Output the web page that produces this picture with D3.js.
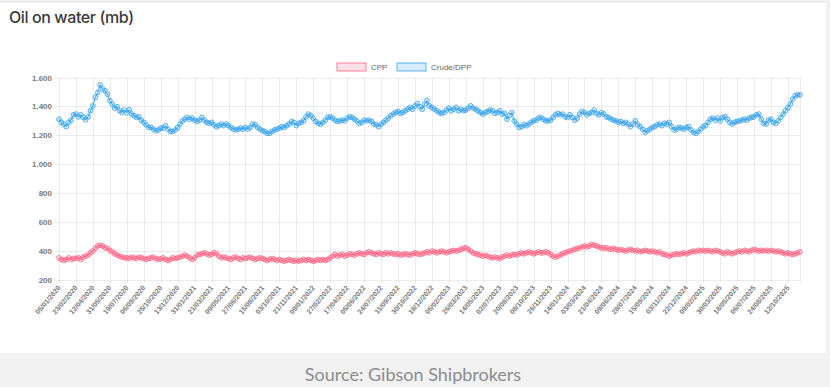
<!doctype html>
<html lang="en">
<head>
  <meta charset="utf-8">
  <title>Oil on water (mb)</title>
  <script src="https://cdn.jsdelivr.net/npm/d3@7"></script>
  <style type="text/css">
    body {
      margin: 0;
      background-color: #ffffff;
    }
    .title {
      font-family: "Inter", sans-serif;
      font-weight: 500;
      font-size: 16px;
      letter-spacing: -0.4px;
      fill: #3a3a3a;
    }
    .source {
      font-family: "Lato", sans-serif;
      font-size: 18px;
      fill: #8c8c8c;
    }
    .tick-label {
      font-family: "Liberation Sans", Arial, sans-serif;
      font-weight: bold;
      fill: #7a7a7a;
    }
    .legend-label {
      font-family: "Liberation Sans", Arial, sans-serif;
      fill: #666666;
    }
    .grid {
      stroke: rgba(0, 0, 0, 0.075);
      stroke-width: 1;
    }
  </style>
</head>
<body>
  <div id="container"></div>

<script type="text/javascript">

  // Weekly series, first week 05/01/2020 (one value per week)
  var cpp = [
    353, 342, 335, 342, 353, 342, 349,
    349, 353, 342, 358, 365, 372, 388,
    400, 419, 435, 440, 435, 423, 419,
    405, 395, 381, 372, 365, 358, 353,
    353, 349, 358, 353, 349, 358, 353,
    349, 342, 349, 353, 358, 349, 342,
    346, 353, 342, 335, 342, 353, 349,
    353, 358, 365, 372, 365, 353, 342,
    353, 372, 377, 381, 388, 381, 372,
    377, 388, 381, 365, 353, 358, 353,
    349, 342, 353, 358, 349, 342, 353,
    349, 353, 358, 349, 342, 349, 353,
    349, 342, 335, 342, 349, 342, 335,
    342, 335, 330, 335, 342, 335, 330,
    335, 330, 335, 342, 335, 342, 335,
    330, 335, 342, 335, 342, 335, 342,
    353, 365, 377, 365, 372, 377, 365,
    372, 381, 377, 372, 381, 388, 381,
    377, 388, 395, 388, 381, 377, 388,
    381, 377, 388, 381, 388, 381, 377,
    381, 372, 377, 381, 377, 372, 381,
    388, 381, 377, 381, 388, 395, 388,
    400, 395, 388, 395, 400, 395, 388,
    395, 400, 405, 400, 405, 412, 419,
    423, 412, 400, 388, 381, 377, 372,
    365, 370, 365, 358, 353, 358, 353,
    349, 358, 365, 372, 365, 372, 377,
    372, 381, 388, 381, 388, 395, 388,
    381, 388, 395, 388, 388, 395, 388,
    377, 365, 358, 365, 372, 381, 388,
    395, 400, 405, 412, 419, 423, 428,
    435, 428, 435, 446, 440, 435, 428,
    423, 419, 423, 416, 412, 419, 412,
    405, 412, 405, 400, 407, 412, 405,
    400, 405, 395, 400, 405, 400, 395,
    400, 395, 388, 395, 381, 377, 372,
    365, 372, 377, 381, 377, 381, 388,
    381, 388, 395, 400, 395, 405, 400,
    405, 400, 405, 400, 395, 405, 400,
    395, 388, 381, 395, 388, 381, 388,
    395, 400, 395, 405, 400, 395, 405,
    412, 405, 400, 405, 400, 405, 400,
    405, 400, 395, 400, 395, 388, 381,
    388, 381, 377, 381, 388, 395
  ];

  var crude = [
    1312, 1290, 1278, 1260, 1290, 1305, 1342,
    1347, 1328, 1342, 1324, 1308, 1328, 1370,
    1404, 1462, 1496, 1549, 1520, 1508, 1485,
    1440, 1416, 1388, 1398, 1370, 1358, 1375,
    1356, 1377, 1347, 1336, 1324, 1328, 1305,
    1290, 1273, 1255, 1255, 1243, 1232, 1237,
    1250, 1250, 1267, 1243, 1227, 1227, 1237,
    1255, 1278, 1300, 1312, 1324, 1312, 1319,
    1305, 1296, 1305, 1324, 1305, 1290, 1283,
    1290, 1273, 1260, 1267, 1278, 1267, 1278,
    1267, 1255, 1243, 1237, 1243, 1250, 1243,
    1255, 1243, 1255, 1278, 1273, 1255, 1243,
    1232, 1227, 1214, 1214, 1227, 1237, 1243,
    1250, 1260, 1255, 1267, 1278, 1294, 1290,
    1267, 1283, 1290, 1300, 1328, 1347, 1336,
    1319, 1296, 1283, 1278, 1290, 1305, 1324,
    1328, 1319, 1305, 1296, 1300, 1305, 1300,
    1319, 1328, 1324, 1312, 1300, 1283, 1290,
    1305, 1300, 1305, 1296, 1278, 1273, 1260,
    1278, 1290, 1305, 1319, 1336, 1347, 1358,
    1365, 1352, 1358, 1370, 1381, 1393, 1381,
    1404, 1420, 1398, 1381, 1416, 1439, 1404,
    1393, 1381, 1370, 1358, 1352, 1358, 1375,
    1388, 1370, 1381, 1393, 1370, 1381, 1370,
    1375, 1388, 1404, 1388, 1381, 1370, 1358,
    1347, 1358, 1365, 1375, 1370, 1352, 1358,
    1370, 1347, 1352, 1312, 1336, 1358, 1300,
    1278, 1255, 1260, 1273, 1267, 1278, 1290,
    1300, 1305, 1319, 1324, 1312, 1300, 1300,
    1305, 1324, 1342, 1352, 1342, 1347, 1328,
    1324, 1342, 1324, 1305, 1319, 1347, 1365,
    1358, 1342, 1352, 1358, 1375, 1352, 1342,
    1358, 1347, 1328, 1324, 1312, 1305, 1300,
    1290, 1296, 1283, 1290, 1278, 1260, 1278,
    1300, 1273, 1260, 1243, 1220, 1232, 1243,
    1255, 1260, 1273, 1278, 1267, 1283, 1278,
    1290, 1260, 1237, 1243, 1255, 1250, 1243,
    1255, 1260, 1237, 1220, 1214, 1227, 1243,
    1260, 1267, 1290, 1312, 1319, 1305, 1319,
    1300, 1324, 1328, 1312, 1290, 1278, 1290,
    1296, 1300, 1305, 1312, 1305, 1319, 1324,
    1328, 1342, 1347, 1312, 1283, 1278, 1305,
    1312, 1290, 1283, 1300, 1324, 1347, 1370,
    1393, 1416, 1450, 1474, 1480, 1480
  ];

  // Shown x labels (every 7th week)
  var dateLabels = [
    "05/01/2020", "23/02/2020", "12/04/2020", "31/05/2020", "19/07/2020", "06/09/2020",
    "25/10/2020", "13/12/2020", "31/01/2021", "21/03/2021", "09/05/2021", "27/06/2021",
    "15/08/2021", "03/10/2021", "21/11/2021", "09/01/2022", "27/02/2022", "17/04/2022",
    "05/06/2022", "24/07/2022", "11/09/2022", "30/10/2022", "18/12/2022", "05/02/2023",
    "26/03/2023", "14/05/2023", "02/07/2023", "20/08/2023", "08/10/2023", "26/11/2023",
    "14/01/2024", "03/03/2024", "21/04/2024", "09/06/2024", "28/07/2024", "15/09/2024",
    "03/11/2024", "22/12/2024", "09/02/2025", "30/03/2025", "18/05/2025", "06/07/2025",
    "24/08/2025", "12/10/2025"
  ];
  var labelStep = 7;

  var yTicks = [200, 400, 600, 800, 1000, 1200, 1400, 1600];

  var seriesNames = ["CPP", "Crude/DPP"];
  var seriesColors = ["rgb(255, 99, 132)", "rgb(54, 162, 235)"];
  var seriesFills = ["rgba(255, 99, 132, 0.2)", "rgba(54, 162, 235, 0.2)"];

  // #############################################################################

  var width = 830, height = 387;
  var plot = { left: 59, right: 800, top: 77.5, bottom: 280 };

  var svg = d3.select("#container")
              .append("svg")
              .attr("width", width)
              .attr("height", height);

  // Page frame
  svg.append("rect").attr("x", 0).attr("y", 0).attr("width", width).attr("height", height).attr("fill", "#fff");
  svg.append("line").attr("x1", 0).attr("x2", width).attr("y1", 1.5).attr("y2", 1.5)
    .attr("stroke", "#e6e6e6").attr("stroke-width", 2);
  svg.append("rect").attr("x", 826).attr("y", 0).attr("width", 4).attr("height", 353).attr("fill", "#f1f1f1");
  svg.append("rect").attr("x", 0).attr("y", 353).attr("width", width).attr("height", height - 353).attr("fill", "#f1f1f1");

  svg.append("text")
    .attr("class", "title")
    .attr("x", 9)
    .attr("y", 23)
    .text("Oil on water (mb)");

  svg.append("text")
    .attr("class", "source")
    .attr("x", 413)
    .attr("y", 381)
    .attr("text-anchor", "middle")
    .text("Source: Gibson Shipbrokers");

  // Scales
  var n = crude.length;
  var xScale = d3.scaleLinear()
    .domain([0, n - 1])
    .range([plot.left, plot.right]);
  var yScale = d3.scaleLinear()
    .domain([200, 1600])
    .range([plot.bottom, plot.top]);

  // Horizontal grid + y labels
  svg.selectAll(".hgrid")
    .data(yTicks)
    .enter()
    .append("line")
    .attr("class", "grid")
    .attr("x1", plot.left - 4)
    .attr("x2", plot.right)
    .attr("y1", function(d) { return Math.round(yScale(d)) + 0.5; })
    .attr("y2", function(d) { return Math.round(yScale(d)) + 0.5; });

  var fmt = function(d) { return d3.format(",")(d).replace(",", "."); };
  svg.selectAll(".ylab")
    .data(yTicks)
    .enter()
    .append("text")
    .attr("class", "tick-label")
    .attr("x", plot.left - 7)
    .attr("y", function(d) { return yScale(d) + 3; })
    .attr("text-anchor", "end")
    .style("font-size", "8px")
    .text(fmt);

  // Vertical grid + x labels
  var labelIdx = dateLabels.map(function(d, i) { return i * labelStep; });
  svg.selectAll(".vgrid")
    .data(labelIdx)
    .enter()
    .append("line")
    .attr("class", "grid")
    .attr("x1", function(d) { return Math.round(xScale(d)) + 0.5; })
    .attr("x2", function(d) { return Math.round(xScale(d)) + 0.5; })
    .attr("y1", plot.top)
    .attr("y2", plot.bottom + 3);
  svg.append("line")
    .attr("class", "grid")
    .attr("x1", plot.right + 0.5).attr("x2", plot.right + 0.5)
    .attr("y1", plot.top).attr("y2", plot.bottom + 3);

  svg.selectAll(".xlab")
    .data(dateLabels)
    .enter()
    .append("text")
    .attr("class", "tick-label")
    .attr("text-anchor", "end")
    .style("font-size", "7px")
    .attr("transform", function(d, i) {
      return "translate(" + (xScale(labelIdx[i]) + 2) + "," + (plot.bottom + 8) + ") rotate(-50)";
    })
    .text(function(d) { return d; });

  // Series
  var series = [cpp, crude];
  var line = d3.line()
    .x(function(d, i) { return xScale(i); })
    .y(function(d) { return yScale(d); });

  series.forEach(function(values, s) {
    svg.append("path")
      .datum(values)
      .attr("d", line)
      .attr("fill", "none")
      .attr("stroke", seriesColors[s])
      .attr("stroke-width", 1);
    svg.selectAll(".pt" + s)
      .data(values)
      .enter()
      .append("circle")
      .attr("cx", function(d, i) { return xScale(i); })
      .attr("cy", function(d) { return yScale(d); })
      .attr("r", 2.4)
      .attr("fill", seriesFills[s])
      .attr("stroke", seriesColors[s])
      .attr("stroke-width", 0.8);
  });

  // Legend
  var legendX = [337, 397];
  seriesNames.forEach(function(name, s) {
    svg.append("rect")
      .attr("x", legendX[s])
      .attr("y", 63)
      .attr("width", 29)
      .attr("height", 8)
      .attr("fill", seriesFills[s])
      .attr("stroke", seriesColors[s])
      .attr("stroke-width", 0.8);
    svg.append("text")
      .attr("class", "legend-label")
      .attr("x", legendX[s] + 34)
      .attr("y", 70)
      .style("font-size", "8px")
      .text(name);
  });

</script>
</body>
</html>
